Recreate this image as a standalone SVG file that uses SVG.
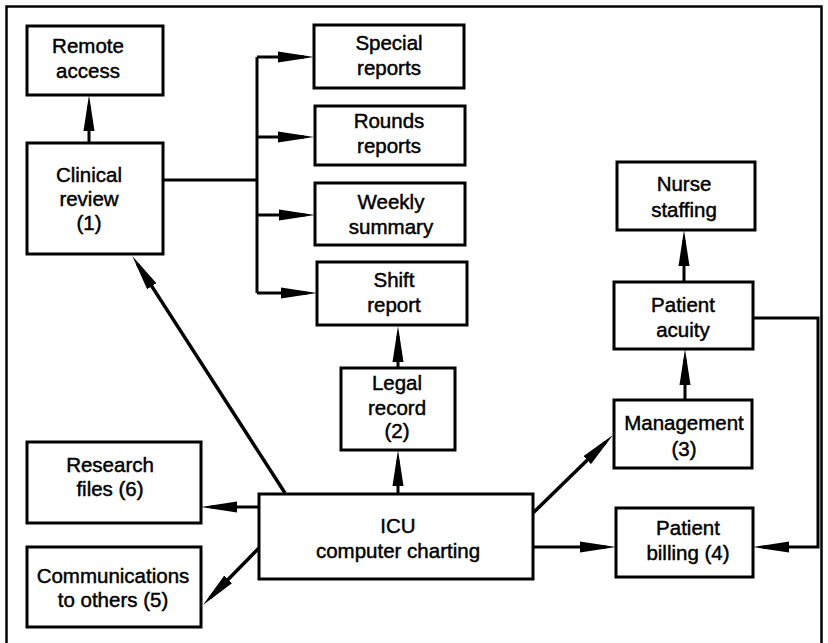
<svg xmlns="http://www.w3.org/2000/svg" width="828" height="643" viewBox="0 0 828 643">
<style>
.box{fill:#fff;stroke:#000;stroke-width:3}
.lbl{font-family:"Liberation Sans",Arial,Helvetica,sans-serif;font-size:20.5px;fill:#000;stroke:#000;stroke-width:0.45;text-anchor:middle}
.con{fill:none;stroke:#000;stroke-width:3;stroke-linejoin:miter}
.diag{fill:none;stroke:#000;stroke-width:3.5}
</style>
<defs>
<marker id="ah" viewBox="0 0 36 12" markerWidth="36" markerHeight="12" refX="26" refY="6" orient="auto" markerUnits="userSpaceOnUse">
<path d="M0,0.5 L36,6 L0,11.5 Z" fill="#000"/>
</marker>
</defs>
<rect x="0" y="0" width="828" height="643" fill="#fff"/>
<rect id="frame" x="6.5" y="6.5" width="815" height="660" fill="none" stroke="#000" stroke-width="2.5"/>

<g id="connectors">
<path class="con" d="M89,143 L89,105" marker-end="url(#ah)"/>
<path class="con" d="M163,180 L257,180"/>
<path class="con" d="M257,57 L257,293"/>
<path class="con" d="M257,57 L304,57" marker-end="url(#ah)"/>
<path class="con" d="M257,137 L304,137" marker-end="url(#ah)"/>
<path class="con" d="M257,215 L305,215" marker-end="url(#ah)"/>
<path class="con" d="M257,293 L307,293" marker-end="url(#ah)"/>
<path class="con" d="M398,368 L398,336" marker-end="url(#ah)"/>
<path class="con" d="M398,494 L398,460" marker-end="url(#ah)"/>
<path class="diag" d="M285,493 L137.7,264.4" marker-end="url(#ah)"/>
<path class="con" d="M259,507 L211,507" marker-end="url(#ah)"/>
<path class="diag" d="M259,548 L210,597.9" marker-end="url(#ah)"/>
<path class="diag" d="M533,513 L605.8,442" marker-end="url(#ah)"/>
<path class="con" d="M533,547 L606,547" marker-end="url(#ah)"/>
<path class="con" d="M685,400 L685,359" marker-end="url(#ah)"/>
<path class="con" d="M684,282 L684,240" marker-end="url(#ah)"/>
<path class="con" d="M753,318 L818,318 L818,547 L763,547" marker-end="url(#ah)"/>
</g>

<g id="remote">
<rect class="box" x="27" y="26" width="136" height="69"/>
<text class="lbl" x="88" y="53">Remote</text>
<text class="lbl" x="88" y="78">access</text>
</g>
<g id="clinical">
<rect class="box" x="27" y="143" width="136" height="111"/>
<text class="lbl" x="89" y="182">Clinical</text>
<text class="lbl" x="89" y="206">review</text>
<text class="lbl" x="89" y="230">(1)</text>
</g>
<g id="special">
<rect class="box" x="314" y="25" width="150" height="63"/>
<text class="lbl" x="389" y="50">Special</text>
<text class="lbl" x="389" y="75">reports</text>
</g>
<g id="rounds">
<rect class="box" x="315" y="106" width="150" height="59"/>
<text class="lbl" x="389" y="128">Rounds</text>
<text class="lbl" x="389" y="153">reports</text>
</g>
<g id="weekly">
<rect class="box" x="315" y="183" width="150" height="62"/>
<text class="lbl" x="391" y="209">Weekly</text>
<text class="lbl" x="391" y="234">summary</text>
</g>
<g id="shift">
<rect class="box" x="317" y="262" width="150" height="63"/>
<text class="lbl" x="394" y="287">Shift</text>
<text class="lbl" x="394" y="312">report</text>
</g>
<g id="legal">
<rect class="box" x="341" y="368" width="114" height="82"/>
<text class="lbl" x="397" y="390">Legal</text>
<text class="lbl" x="397" y="415">record</text>
<text class="lbl" x="397" y="438">(2)</text>
</g>
<g id="icu">
<rect class="box" x="259" y="494" width="274" height="85"/>
<text class="lbl" x="398" y="533">ICU</text>
<text class="lbl" x="398" y="558">computer charting</text>
</g>
<g id="research">
<rect class="box" x="27" y="442" width="174" height="81"/>
<text class="lbl" x="110" y="472">Research</text>
<text class="lbl" x="110" y="496">files (6)</text>
</g>
<g id="communications">
<rect class="box" x="27" y="547" width="174" height="80"/>
<text class="lbl" x="113" y="583">Communications</text>
<text class="lbl" x="113" y="607">to others (5)</text>
</g>
<g id="management">
<rect class="box" x="614" y="400" width="138" height="68"/>
<text class="lbl" x="684" y="430">Management</text>
<text class="lbl" x="684" y="456">(3)</text>
</g>
<g id="billing">
<rect class="box" x="616" y="508" width="137" height="69"/>
<text class="lbl" x="688" y="535">Patient</text>
<text class="lbl" x="688" y="560">billing (4)</text>
</g>
<g id="acuity">
<rect class="box" x="614" y="282" width="139" height="67"/>
<text class="lbl" x="683" y="312">Patient</text>
<text class="lbl" x="683" y="337">acuity</text>
</g>
<g id="nurse">
<rect class="box" x="617" y="162" width="138" height="68"/>
<text class="lbl" x="684" y="191">Nurse</text>
<text class="lbl" x="684" y="217">staffing</text>
</g>
</svg>
